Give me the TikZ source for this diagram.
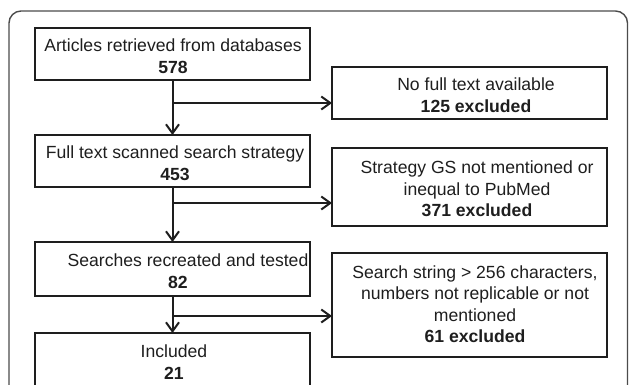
\documentclass[tikz,border=0pt]{standalone}
\usepackage{fontspec}
\setmainfont{Liberation Sans}
\usetikzlibrary{arrows.meta}
\definecolor{ink}{HTML}{1E1E1E}
\begin{document}
\begin{tikzpicture}[x=1pt,y=-1pt,
  box/.style={draw=ink, line width=2pt, minimum width=275pt, inner sep=0pt, outer sep=0pt},
  txt/.style={align=center, inner sep=0pt, text=ink, font=\fontsize{17.6pt}{21.5pt}\selectfont},
  arr/.style={draw=ink, line width=2pt, -{Straight Barb[length=9pt,width=13pt,line width=2pt]}},
  ln/.style={draw=ink, line width=2pt}]
\useasboundingbox (0,0) rectangle (629,384);
\clip (0,0) rectangle (629,384);
% outer frame
\draw[draw=ink!80, line width=1.4pt, rounded corners=12pt] (9,11) rectangle (627.5,420);
% boxes
\node[box, minimum height=52pt] (b1) at (172.5,54) {};
\node[box, minimum height=52pt] (b2) at (469.5,93) {};
\node[box, minimum height=52pt] (b3) at (172.5,161) {};
\node[box, minimum height=78pt] (b4) at (469.5,187) {};
\node[box, minimum height=54pt] (b5) at (172.5,269) {};
\node[box, minimum height=104pt] (b6) at (469.5,305) {};
\node[box, minimum height=56pt] (b7) at (172.5,361) {};
% texts
\node[txt] (t1) at (173,56) {Articles retrieved from databases\\\textbf{578}};
\node[txt] (t2) at (476,95) {No full text available\\\textbf{125 excluded}};
\node[txt] (t3) at (175,163) {Full text scanned search strategy\\\textbf{453}};
\node[txt] (t4) at (477,189) {Strategy GS not mentioned or\\inequal to PubMed\\\textbf{371 excluded}};
\node[txt] (t5) at (178,271) {\hspace*{20pt}Searches recreated and tested\\\textbf{82}};
\node[txt] (t6) at (475,304) {Search string > 256 characters,\\numbers not replicable or not\hspace*{19pt}\\mentioned\\\textbf{61 excluded}};
\node[txt] (t7) at (174,362) {Included\\\textbf{21}};
% junctions
\coordinate (j1) at (172.5,103);
\coordinate (j2) at (172.5,203);
\coordinate (j3) at (172.5,316);
% connectors
\draw[arr] (b1.south) -- (b3.north);
\draw[arr] (j1) -- (j1 -| b2.west);
\draw[arr] (b3.south) -- (b5.north);
\draw[arr] (j2) -- (j2 -| b4.west);
\draw[arr] (b5.south) -- (b7.north);
\draw[arr] (j3) -- (j3 -| b6.west);
\end{tikzpicture}
\end{document}
